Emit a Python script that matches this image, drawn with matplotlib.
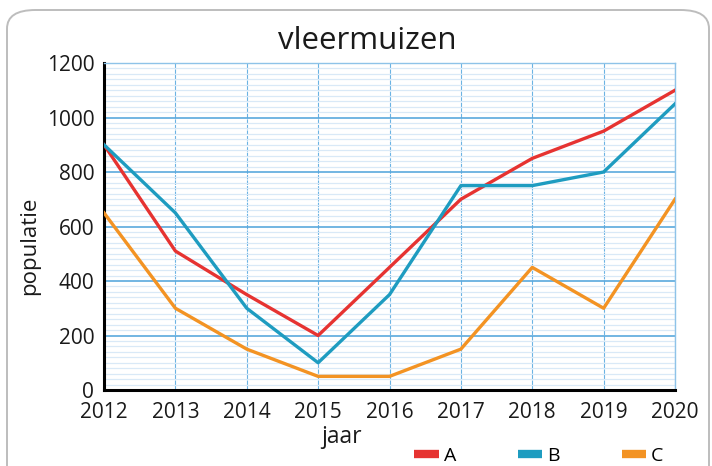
import matplotlib
matplotlib.use("Agg")
import matplotlib.pyplot as plt
from matplotlib.patches import FancyBboxPatch
from matplotlib.ticker import MultipleLocator

plt.rcParams["font.family"] = ["Open Sans", "DejaVu Sans"]

YEARS = [2012, 2013, 2014, 2015, 2016, 2017, 2018, 2019, 2020]
A = [900, 510, 350, 200, 450, 700, 850, 950, 1100]
B = [900, 650, 300, 100, 350, 750, 750, 800, 1050]
C = [650, 300, 150, 50, 50, 150, 450, 300, 700]

RED = "#E63331"; BLUE = "#1E9CC0"; ORANGE = "#F39323"
INK = "#1A1A1A"

W, H = 712, 466
fig = plt.figure(figsize=(W / 100, H / 100), dpi=100)

# rounded frame round the whole card, bottom runs off the picture
fig.patches.append(FancyBboxPatch((7 / W, -40 / H), 702 / W, (H - 10 + 40) / H,
                   boxstyle="round,pad=0,rounding_size=0.04",
                   transform=fig.transFigure, facecolor="none",
                   edgecolor="#BDBDBD", linewidth=1.4, zorder=-1))

ax = fig.add_axes([104 / W, 76 / H, 571 / W, 327 / H])
ax.set_xlim(2012, 2020)
ax.set_ylim(0, 1200)

ax.yaxis.set_major_locator(MultipleLocator(200))
ax.yaxis.set_minor_locator(MultipleLocator(20))
ax.xaxis.set_major_locator(MultipleLocator(1))
ax.grid(which="minor", axis="y", color="#D9E9F7", lw=0.9)
ax.grid(which="major", axis="y", color="#5AA9DD", lw=1.2)
ax.grid(which="major", axis="x", color="#6BB3E3", lw=0.8, ls=(0, (4, 1)))
ax.set_axisbelow(True)

for s in ("top", "right"):
    ax.spines[s].set_color("#8EC3E8")
    ax.spines[s].set_linewidth(1)
for s in ("left", "bottom"):
    ax.spines[s].set_color("black")
    ax.spines[s].set_linewidth(2.2)

ax.tick_params(which="both", length=0)
ax.tick_params(axis="both", labelsize=15, colors=INK)
ax.tick_params(axis="x", pad=9)
ax.tick_params(axis="y", pad=7)

ax.plot(YEARS, A, color=RED, lw=2.4, label="A", zorder=3)
ax.plot(YEARS, B, color=BLUE, lw=2.4, label="B", zorder=3)
ax.plot(YEARS, C, color=ORANGE, lw=2.4, label="C", zorder=3)

# title and axis names sit a little off-centre in the original
fig.text(367 / W, 1 - 49 / H, "vleermuizen", ha="center", va="baseline",
         fontsize=22.5, color=INK)
fig.text(342 / W, 1 - 443 / H, "jaar", ha="center", va="baseline",
         fontsize=16.5, color=INK)
fig.text(30 / W, 1 - 246 / H, "populatie", ha="center", va="center",
         rotation=90, fontsize=16, color=INK)

leg = fig.legend(loc="center", bbox_to_anchor=(539 / W, 10 / H), ncol=3,
                 frameon=False, fontsize=14, handlelength=1.25, handletextpad=0.25,
                 columnspacing=3.2, borderaxespad=0)
for line in leg.get_lines():
    line.set_linewidth(6)
    line.set_solid_capstyle("butt")

fig.savefig("out.png", dpi=100)
